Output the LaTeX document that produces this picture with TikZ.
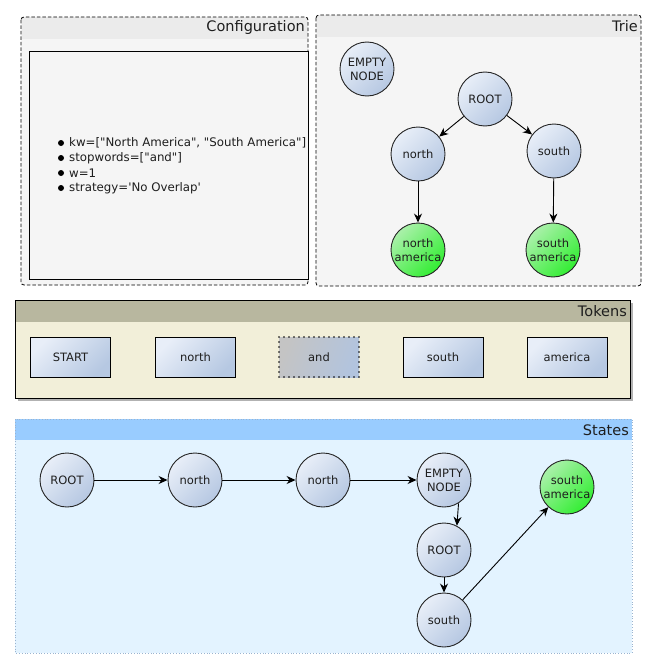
\documentclass[tikz,border=0pt]{standalone}
\usepackage{fontspec}
\newfontfamily\dejavu{DejaVu Sans}
\usetikzlibrary{arrows.meta}

\definecolor{paneltop}{HTML}{EBEBEB}
\definecolor{panelbody}{HTML}{F5F5F5}
\definecolor{tokentop}{HTML}{B8B79F}
\definecolor{tokenbody}{HTML}{F2EFD9}
\definecolor{statetop}{HTML}{99CCFF}
\definecolor{statebody}{HTML}{E3F3FF}
\definecolor{stateedge}{HTML}{9AB4D0}
\definecolor{nodelight}{HTML}{E8EEF8}
\definecolor{nodedark}{HTML}{B6C8E2}
\definecolor{leaflight}{HTML}{AAF0AA}
\definecolor{leafdark}{HTML}{33EE33}
\definecolor{andlight}{HTML}{C4C4C4}
\definecolor{anddark}{HTML}{B2C4DE}
\definecolor{ink}{HTML}{1E1E1E}

\begin{document}
\begin{tikzpicture}[x=1pt, y=-1pt, text=ink,
    font=\dejavu\fontsize{11.5}{14}\selectfont,
    statenode/.style={circle, draw=black!85, line width=0.9pt, minimum size=54pt,
      inner sep=0pt, align=center, top color=nodelight, bottom color=nodedark,
      shading angle=45},
    leafnode/.style={statenode, top color=leaflight, bottom color=leafdark, shading angle=45},
    tokenbox/.style={draw=black, line width=1pt, minimum width=80pt, minimum height=40pt,
      top color=nodelight, bottom color=nodedark, shading angle=45},
    skipbox/.style={tokenbox, draw=black, line width=1.6pt, line cap=round,
      dash pattern=on 0pt off 5pt, top color=andlight, bottom color=anddark,
      shading angle=70},
    panelline/.style={line width=0.8pt, dash pattern=on 3.5pt off 2pt},
    edge/.style={-{Stealth[length=9pt,width=8pt]}, line width=0.9pt},
    title/.style={anchor=east, inner sep=0pt, font=\dejavu\fontsize{14.5}{16}\selectfont}]
  \useasboundingbox (0,0) rectangle (656,669);

  % configuration panel
  \fill[panelbody, rounded corners=3pt] (21,17) rectangle (308,285);
  \fill[paneltop] (21.5,17.5) rectangle (307.5,39);
  \draw[panelline, rounded corners=3pt] (21,17) rectangle (308,285);
  \node[title] (cfgtitle) at (305,28) {Configuration};
  \draw[fill=panelbody, line width=0.9pt] (29,51) rectangle (308,279);
  \foreach \i/\t in {0/{kw=["North America", "South America"]},
      1/{stopwords=["and"]}, 2/{w=1}, 3/{strategy='No Overlap'}} {
    \fill[black] (61,{143+15*\i}) circle (3pt);
    \node[anchor=west, inner sep=0pt, font=\dejavu\fontsize{11.8}{14}\selectfont]
      (cfg\i) at (69,{143+15*\i}) {\t};
  }

  % trie panel
  \fill[panelbody, rounded corners=3pt] (316,15) rectangle (641,286);
  \fill[paneltop] (316.5,15.5) rectangle (640.5,37);
  \draw[panelline, rounded corners=3pt] (316,15) rectangle (641,286);
  \node[title] (trietitle) at (638,26) {Trie};
  \node[statenode] (tempty) at (367,69) {EMPTY\\NODE};
  \node[statenode] (troot) at (485,99) {ROOT};
  \node[statenode] (tnorth) at (418,154) {north};
  \node[statenode] (tsouth) at (554,151) {south};
  \node[leafnode] (tnam) at (418,250) {north\\america};
  \node[leafnode] (tsam) at (553,250) {south\\america};
  \draw[edge] (troot) -- (tnorth);
  \draw[edge] (troot) -- (tsouth);
  \draw[edge] (tnorth) -- (tnam);
  \draw[edge] (tsouth) -- (tsam);

  % tokens panel
  \fill[black!30] (18,303) rectangle (633,401);
  \fill[tokenbody] (15,300) rectangle (630,398);
  \fill[tokentop] (15,300) rectangle (630,322);
  \draw[line width=0.9pt] (15,300) rectangle (630,398);
  \node[title] (tokentitle) at (627,311) {Tokens};
  \node[tokenbox] (kstart) at (70.5,357) {START};
  \node[tokenbox] (knorth) at (195.5,357) {north};
  \node[skipbox] (kand) at (319,357) {and};
  \node[tokenbox] (ksouth) at (443,357) {south};
  \node[tokenbox] (kamerica) at (567,357) {america};

  % states panel
  \fill[statebody] (15,419) rectangle (632,653);
  \fill[statetop] (15,419) rectangle (632,440);
  \draw[stateedge, line width=0.8pt, dotted] (15,419) rectangle (632,653);
  \node[title] (statetitle) at (629,430) {States};
  \node[statenode] (sroot) at (67,480) {ROOT};
  \node[statenode] (snorth) at (195,480) {north};
  \node[statenode] (snorthb) at (323,480) {north};
  \node[statenode] (sempty) at (444,480) {EMPTY\\NODE};
  \node[statenode] (srootb) at (444,550) {ROOT};
  \node[statenode] (ssouth) at (444,620) {south};
  \node[leafnode] (ssam) at (567,487) {south\\america};
  \draw[edge] (sroot) -- (snorth);
  \draw[edge] (snorth) -- (snorthb);
  \draw[edge] (snorthb) -- (sempty);
  \draw[edge] (sempty.-58) -- (srootb.62);
  \draw[edge] (srootb) -- (ssouth);
  \draw[edge] (ssouth) -- (ssam);
\end{tikzpicture}
\end{document}
